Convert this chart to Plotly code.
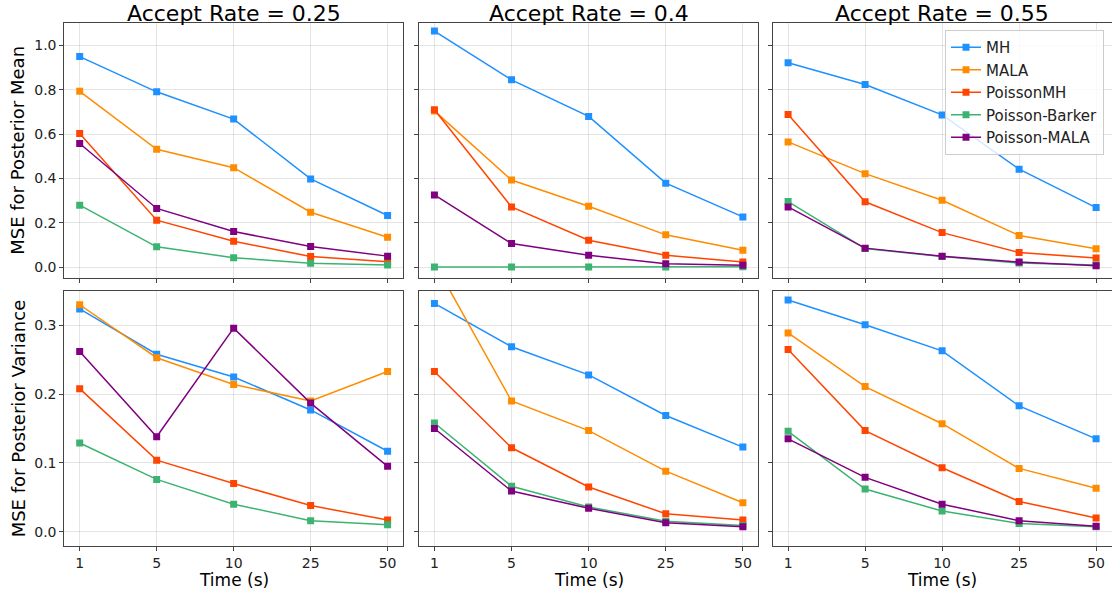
import plotly.graph_objects as go

times = ["1", "5", "10", "25", "50"]
methods = ["MH", "MALA", "PoissonMH", "Poisson-Barker", "Poisson-MALA"]
colors = ["#1E90FF", "#FF8C00", "#FF4500", "#3CB371", "#800080"]
accept_rates = ["0.25", "0.4", "0.55"]

# MSE for posterior mean, per accept rate
mean_025 = {
    "MH": [0.950, 0.791, 0.668, 0.398, 0.233],
    "MALA": [0.793, 0.532, 0.449, 0.248, 0.135],
    "PoissonMH": [0.603, 0.212, 0.117, 0.048, 0.025],
    "Poisson-Barker": [0.280, 0.092, 0.043, 0.018, 0.010],
    "Poisson-MALA": [0.558, 0.265, 0.161, 0.093, 0.050],
}
mean_040 = {
    "MH": [1.065, 0.845, 0.680, 0.379, 0.227],
    "MALA": [0.705, 0.393, 0.275, 0.146, 0.077],
    "PoissonMH": [0.710, 0.272, 0.122, 0.054, 0.024],
    "Poisson-Barker": [0.001, 0.001, 0.001, 0.001, 0.002],
    "Poisson-MALA": [0.326, 0.107, 0.054, 0.016, 0.009],
}
mean_055 = {
    "MH": [0.922, 0.824, 0.687, 0.442, 0.269],
    "MALA": [0.565, 0.422, 0.302, 0.143, 0.083],
    "PoissonMH": [0.689, 0.295, 0.156, 0.066, 0.042],
    "Poisson-Barker": [0.296, 0.084, 0.048, 0.019, 0.010],
    "Poisson-MALA": [0.272, 0.086, 0.050, 0.023, 0.007],
}
# MSE for posterior variance, per accept rate
var_025 = {
    "MH": [0.324, 0.258, 0.225, 0.177, 0.117],
    "MALA": [0.330, 0.253, 0.214, 0.190, 0.233],
    "PoissonMH": [0.208, 0.104, 0.070, 0.038, 0.017],
    "Poisson-Barker": [0.129, 0.076, 0.040, 0.016, 0.010],
    "Poisson-MALA": [0.262, 0.138, 0.296, 0.187, 0.095],
}
var_040 = {
    "MH": [0.332, 0.269, 0.228, 0.169, 0.123],
    "MALA": [0.391, 0.190, 0.147, 0.088, 0.042],
    "PoissonMH": [0.233, 0.122, 0.065, 0.026, 0.017],
    "Poisson-Barker": [0.158, 0.066, 0.036, 0.015, 0.009],
    "Poisson-MALA": [0.150, 0.059, 0.034, 0.013, 0.007],
}
var_055 = {
    "MH": [0.337, 0.301, 0.263, 0.183, 0.135],
    "MALA": [0.289, 0.211, 0.157, 0.092, 0.063],
    "PoissonMH": [0.265, 0.147, 0.093, 0.044, 0.020],
    "Poisson-Barker": [0.146, 0.062, 0.030, 0.012, 0.007],
    "Poisson-MALA": [0.135, 0.079, 0.040, 0.016, 0.008],
}

W, H = 1112, 596
FONT = "DejaVu Sans"
panels = [[mean_025, mean_040, mean_055], [var_025, var_040, var_055]]

xdom_px = [(64.3, 403.0), (419.0, 758.3), (772.7, 1111.5)]
ydom_px = [(23.3, 278.3), (291.0, 545.7)]
yranges = [[-0.05, 1.10], [-0.0204, 0.350]]
yticks = [[0.0, 0.2, 0.4, 0.6, 0.8, 1.0], [0.0, 0.1, 0.2, 0.3]]

fig = go.Figure()
layout = {}
for r in range(2):
    for c in range(3):
        idx = r * 3 + c + 1
        xa = "x" if idx == 1 else f"x{idx}"
        ya = "y" if idx == 1 else f"y{idx}"
        data = panels[r][c]
        for m, col in zip(methods, colors):
            fig.add_trace(go.Scatter(
                x=times, y=data[m], mode="lines+markers", name=m,
                line=dict(color=col, width=1.5),
                marker=dict(symbol="square", size=7, color=col),
                xaxis=xa, yaxis=ya,
                showlegend=(r == 0 and c == 2),
                legendgroup=m,
            ))
        axcommon = dict(
            showline=True, mirror=True, linecolor="#444", linewidth=1,
            ticks="outside", ticklen=4, tickcolor="#444",
            showgrid=True, gridcolor="rgba(0,0,0,0.1)", gridwidth=1,
            zeroline=False, tickfont=dict(family=FONT, size=14, color="#222"),
        )
        x0, x1 = xdom_px[c]
        y0, y1 = ydom_px[r]
        layout["xaxis" if idx == 1 else f"xaxis{idx}"] = dict(
            axcommon, domain=[x0 / W, x1 / W], anchor=ya,
            type="category", categoryorder="array", categoryarray=times,
            range=[-0.2, 4.2], showticklabels=(r == 1),
        )
        layout["yaxis" if idx == 1 else f"yaxis{idx}"] = dict(
            axcommon, domain=[1 - y1 / H, 1 - y0 / H], anchor=xa,
            range=yranges[r], tickvals=yticks[r],
            ticktext=[f"{v:.1f}" for v in yticks[r]],
            showticklabels=(c == 0),
        )

annotations = []
for c, ar in enumerate(accept_rates):
    x0, x1 = xdom_px[c]
    annotations.append(dict(
        text=f"Accept Rate = {ar}", xref="paper", yref="paper",
        x=(x0 + x1) / 2 / W, y=1 - 23.3 / H, xanchor="center", yanchor="bottom",
        yshift=-4, borderpad=0, showarrow=False,
        font=dict(family=FONT, size=22, color="#000"),
    ))
    annotations.append(dict(
        text="Time (s)", xref="paper", yref="paper",
        x=(x0 + x1) / 2 / W, y=1 - 568 / H, xanchor="center", yanchor="top",
        showarrow=False, font=dict(family=FONT, size=17, color="#000"),
    ))
annotations.append(dict(
    text="MSE for Posterior Mean", xref="paper", yref="paper",
    x=18 / W, y=1 - (23.3 + 278.3) / 2 / H, xanchor="center", yanchor="middle",
    textangle=-90, showarrow=False, font=dict(family=FONT, size=18, color="#000"),
))
annotations.append(dict(
    text="MSE for Posterior Variance", xref="paper", yref="paper",
    x=18 / W, y=1 - (291.0 + 545.7) / 2 / H, xanchor="center", yanchor="middle",
    textangle=-90, showarrow=False, font=dict(family=FONT, size=18, color="#000"),
))

fig.update_layout(
    width=W, height=H, margin=dict(l=0, r=0, t=0, b=0),
    plot_bgcolor="white", paper_bgcolor="white",
    annotations=annotations,
    legend=dict(
        x=1104 / W, y=1 - 30 / H, xanchor="right", yanchor="top",
        bgcolor="rgba(255,255,255,0.8)", bordercolor="#ccc", borderwidth=1,
        font=dict(family=FONT, size=15, color="#222"),
        tracegroupgap=0, itemwidth=30,
    ),
    **layout,
)
fig.write_html("out.html")
